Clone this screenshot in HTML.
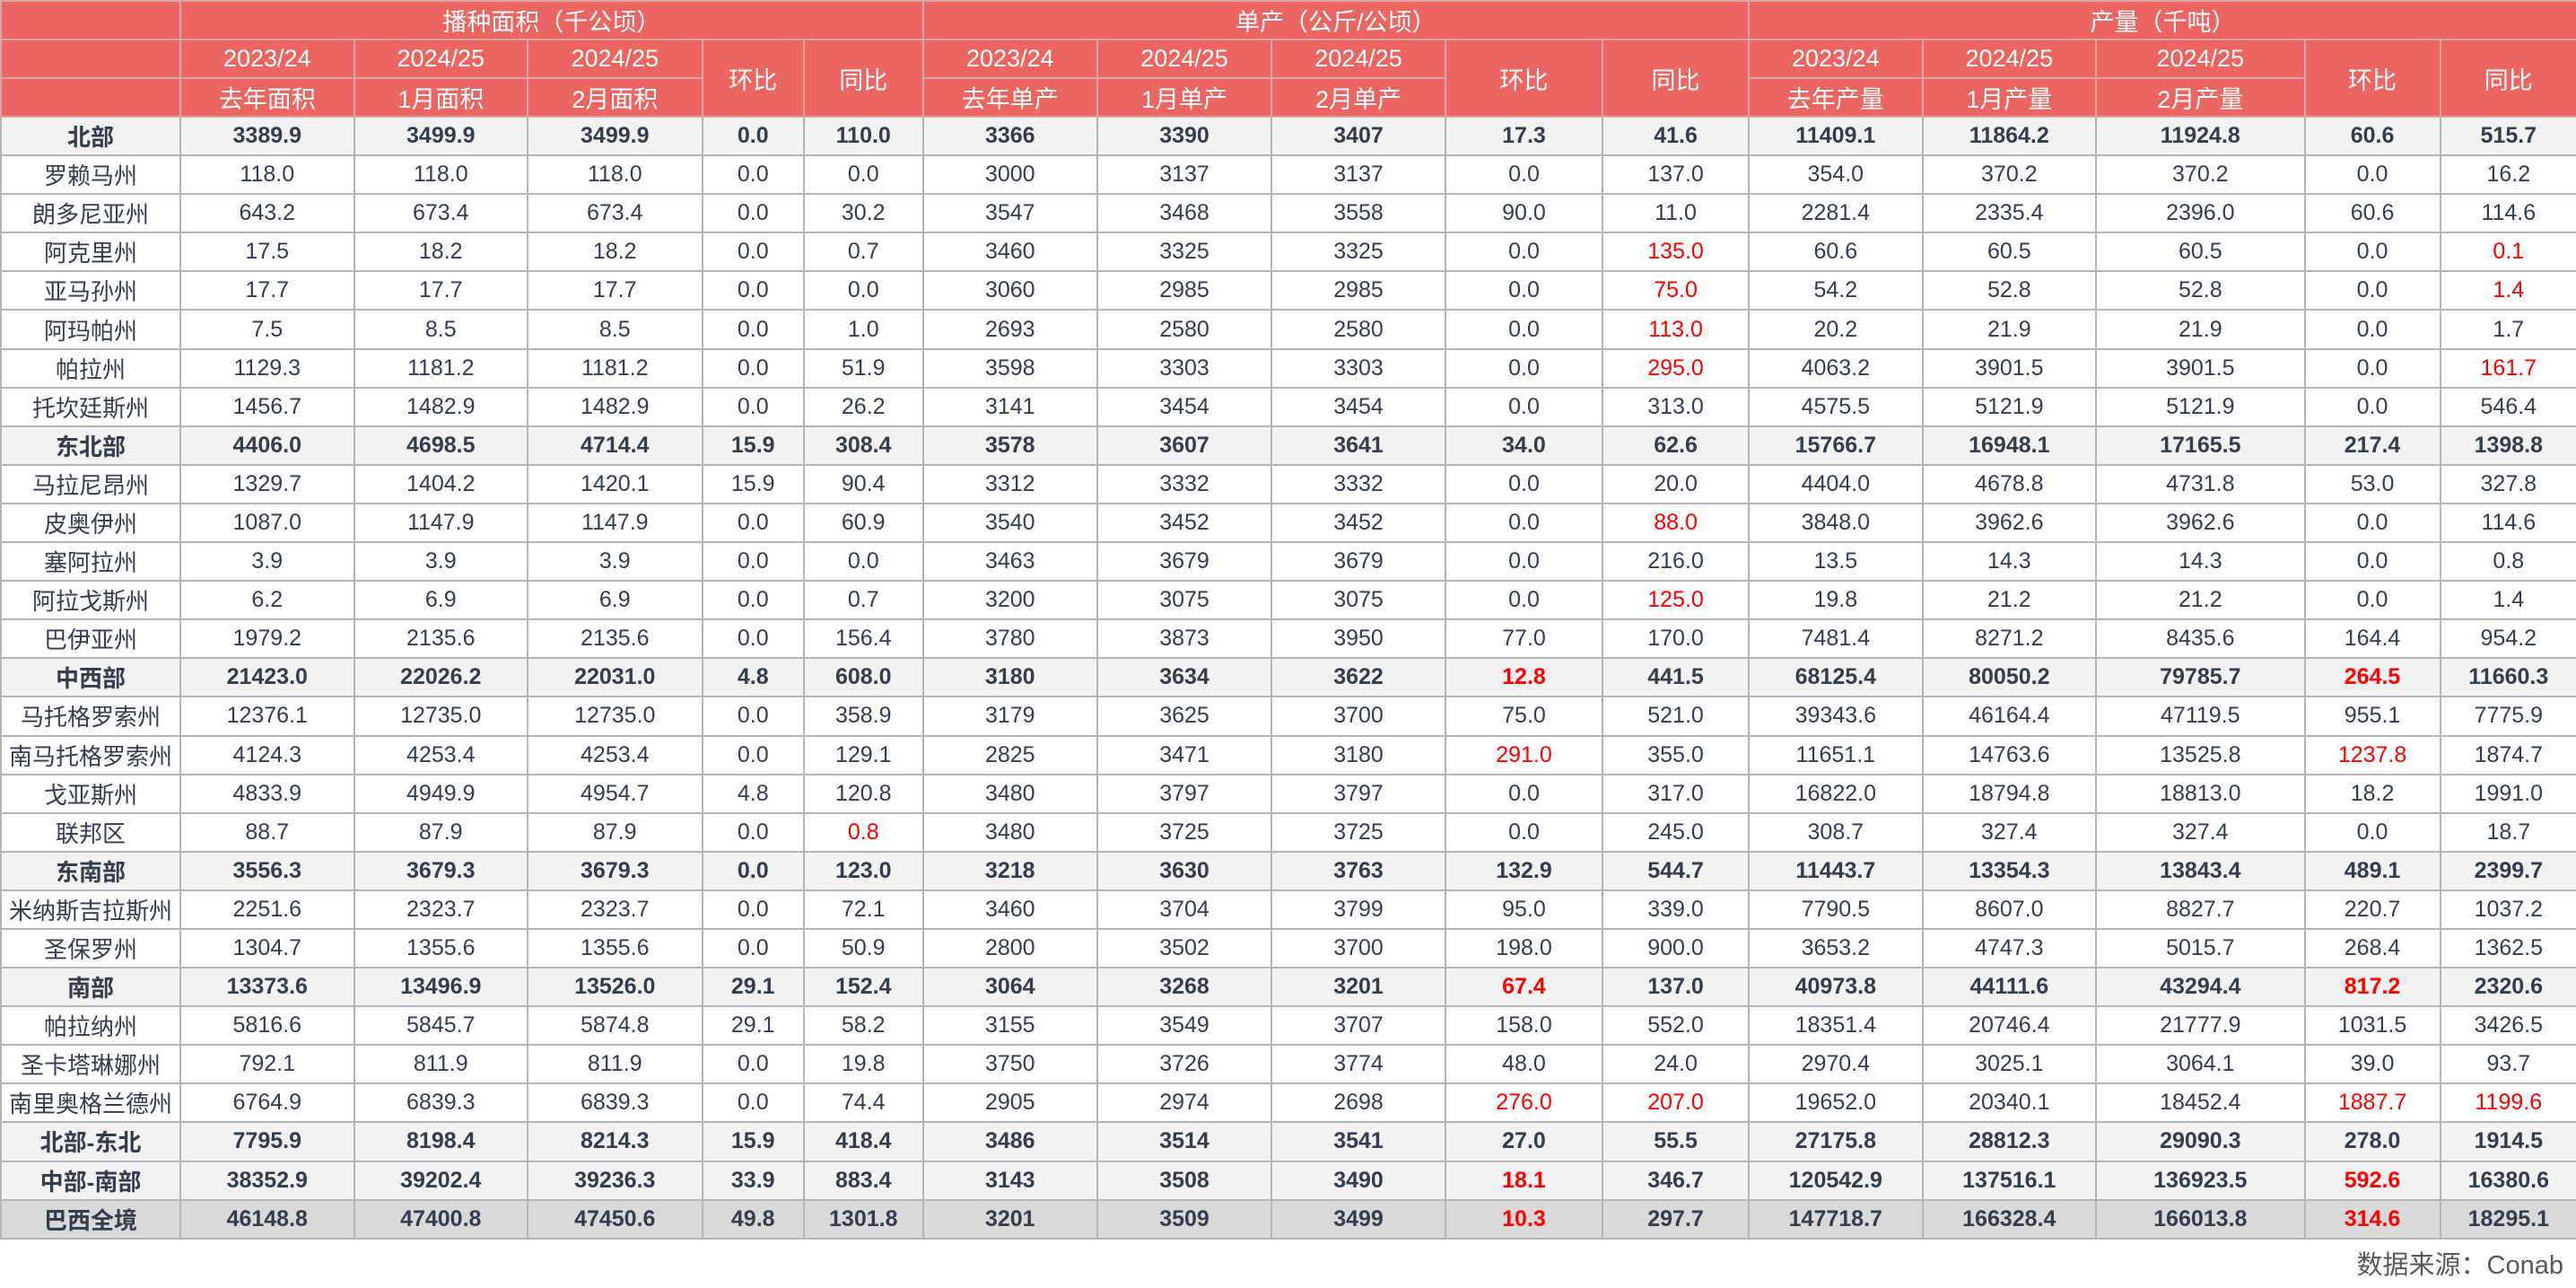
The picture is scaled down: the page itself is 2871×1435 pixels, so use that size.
<!DOCTYPE html>
<html><head><meta charset="utf-8">
<style>
html,body{margin:0;padding:0;background:#fff;}
body{width:2871px;height:1435px;position:relative;overflow:hidden;font-family:"Liberation Sans","Noto Sans CJK SC",sans-serif;}
table{position:absolute;left:0;top:0;border-collapse:collapse;table-layout:fixed;width:2871px;}
td{padding:0;text-align:center;vertical-align:middle;font-size:25px;color:#333d4e;border:2px solid #b4b4b4;white-space:nowrap;overflow:hidden;}
thead td{background:#eb6663;color:#fff;font-size:27px;border-color:#d9a5a3;height:41px;}
tbody tr{height:43.1px;}
tr.b td{background:#f2f2f2;font-weight:bold;}
tr.t td{background:#d9d9d9;font-weight:bold;}
td.n{font-size:26px;}
.r{color:#ff0000 !important;}
.src{position:absolute;right:14px;top:1386px;font-size:29px;color:#595959;}
</style></head><body>
<table>
<colgroup>
<col style="width:200px"><col style="width:193.5px"><col style="width:193.5px"><col style="width:194.5px"><col style="width:113.5px"><col style="width:132.5px">
<col style="width:194.5px"><col style="width:194px"><col style="width:194px"><col style="width:175px"><col style="width:163px">
<col style="width:193.5px"><col style="width:193.5px"><col style="width:232.5px"><col style="width:151px"><col style="width:152.5px">
</colgroup>
<thead>
<tr><td></td><td colspan="5">播种面积（千公顷）</td><td colspan="5">单产（公斤/公顷）</td><td colspan="5">产量（千吨）</td></tr>
<tr><td></td><td>2023/24</td><td>2024/25</td><td>2024/25</td><td rowspan="2">环比</td><td rowspan="2">同比</td><td>2023/24</td><td>2024/25</td><td>2024/25</td><td rowspan="2">环比</td><td rowspan="2">同比</td><td>2023/24</td><td>2024/25</td><td>2024/25</td><td rowspan="2">环比</td><td rowspan="2">同比</td></tr>
<tr><td></td><td>去年面积</td><td>1月面积</td><td>2月面积</td><td>去年单产</td><td>1月单产</td><td>2月单产</td><td>去年产量</td><td>1月产量</td><td>2月产量</td></tr>
</thead>
<tbody>
<tr class="b"><td class="n">北部</td><td>3389.9</td><td>3499.9</td><td>3499.9</td><td>0.0</td><td>110.0</td><td>3366</td><td>3390</td><td>3407</td><td>17.3</td><td>41.6</td><td>11409.1</td><td>11864.2</td><td>11924.8</td><td>60.6</td><td>515.7</td></tr>
<tr><td class="n">罗赖马州</td><td>118.0</td><td>118.0</td><td>118.0</td><td>0.0</td><td>0.0</td><td>3000</td><td>3137</td><td>3137</td><td>0.0</td><td>137.0</td><td>354.0</td><td>370.2</td><td>370.2</td><td>0.0</td><td>16.2</td></tr>
<tr><td class="n">朗多尼亚州</td><td>643.2</td><td>673.4</td><td>673.4</td><td>0.0</td><td>30.2</td><td>3547</td><td>3468</td><td>3558</td><td>90.0</td><td>11.0</td><td>2281.4</td><td>2335.4</td><td>2396.0</td><td>60.6</td><td>114.6</td></tr>
<tr><td class="n">阿克里州</td><td>17.5</td><td>18.2</td><td>18.2</td><td>0.0</td><td>0.7</td><td>3460</td><td>3325</td><td>3325</td><td>0.0</td><td class="r">135.0</td><td>60.6</td><td>60.5</td><td>60.5</td><td>0.0</td><td class="r">0.1</td></tr>
<tr><td class="n">亚马孙州</td><td>17.7</td><td>17.7</td><td>17.7</td><td>0.0</td><td>0.0</td><td>3060</td><td>2985</td><td>2985</td><td>0.0</td><td class="r">75.0</td><td>54.2</td><td>52.8</td><td>52.8</td><td>0.0</td><td class="r">1.4</td></tr>
<tr><td class="n">阿玛帕州</td><td>7.5</td><td>8.5</td><td>8.5</td><td>0.0</td><td>1.0</td><td>2693</td><td>2580</td><td>2580</td><td>0.0</td><td class="r">113.0</td><td>20.2</td><td>21.9</td><td>21.9</td><td>0.0</td><td>1.7</td></tr>
<tr><td class="n">帕拉州</td><td>1129.3</td><td>1181.2</td><td>1181.2</td><td>0.0</td><td>51.9</td><td>3598</td><td>3303</td><td>3303</td><td>0.0</td><td class="r">295.0</td><td>4063.2</td><td>3901.5</td><td>3901.5</td><td>0.0</td><td class="r">161.7</td></tr>
<tr><td class="n">托坎廷斯州</td><td>1456.7</td><td>1482.9</td><td>1482.9</td><td>0.0</td><td>26.2</td><td>3141</td><td>3454</td><td>3454</td><td>0.0</td><td>313.0</td><td>4575.5</td><td>5121.9</td><td>5121.9</td><td>0.0</td><td>546.4</td></tr>
<tr class="b"><td class="n">东北部</td><td>4406.0</td><td>4698.5</td><td>4714.4</td><td>15.9</td><td>308.4</td><td>3578</td><td>3607</td><td>3641</td><td>34.0</td><td>62.6</td><td>15766.7</td><td>16948.1</td><td>17165.5</td><td>217.4</td><td>1398.8</td></tr>
<tr><td class="n">马拉尼昂州</td><td>1329.7</td><td>1404.2</td><td>1420.1</td><td>15.9</td><td>90.4</td><td>3312</td><td>3332</td><td>3332</td><td>0.0</td><td>20.0</td><td>4404.0</td><td>4678.8</td><td>4731.8</td><td>53.0</td><td>327.8</td></tr>
<tr><td class="n">皮奥伊州</td><td>1087.0</td><td>1147.9</td><td>1147.9</td><td>0.0</td><td>60.9</td><td>3540</td><td>3452</td><td>3452</td><td>0.0</td><td class="r">88.0</td><td>3848.0</td><td>3962.6</td><td>3962.6</td><td>0.0</td><td>114.6</td></tr>
<tr><td class="n">塞阿拉州</td><td>3.9</td><td>3.9</td><td>3.9</td><td>0.0</td><td>0.0</td><td>3463</td><td>3679</td><td>3679</td><td>0.0</td><td>216.0</td><td>13.5</td><td>14.3</td><td>14.3</td><td>0.0</td><td>0.8</td></tr>
<tr><td class="n">阿拉戈斯州</td><td>6.2</td><td>6.9</td><td>6.9</td><td>0.0</td><td>0.7</td><td>3200</td><td>3075</td><td>3075</td><td>0.0</td><td class="r">125.0</td><td>19.8</td><td>21.2</td><td>21.2</td><td>0.0</td><td>1.4</td></tr>
<tr><td class="n">巴伊亚州</td><td>1979.2</td><td>2135.6</td><td>2135.6</td><td>0.0</td><td>156.4</td><td>3780</td><td>3873</td><td>3950</td><td>77.0</td><td>170.0</td><td>7481.4</td><td>8271.2</td><td>8435.6</td><td>164.4</td><td>954.2</td></tr>
<tr class="b"><td class="n">中西部</td><td>21423.0</td><td>22026.2</td><td>22031.0</td><td>4.8</td><td>608.0</td><td>3180</td><td>3634</td><td>3622</td><td class="r">12.8</td><td>441.5</td><td>68125.4</td><td>80050.2</td><td>79785.7</td><td class="r">264.5</td><td>11660.3</td></tr>
<tr><td class="n">马托格罗索州</td><td>12376.1</td><td>12735.0</td><td>12735.0</td><td>0.0</td><td>358.9</td><td>3179</td><td>3625</td><td>3700</td><td>75.0</td><td>521.0</td><td>39343.6</td><td>46164.4</td><td>47119.5</td><td>955.1</td><td>7775.9</td></tr>
<tr><td class="n">南马托格罗索州</td><td>4124.3</td><td>4253.4</td><td>4253.4</td><td>0.0</td><td>129.1</td><td>2825</td><td>3471</td><td>3180</td><td class="r">291.0</td><td>355.0</td><td>11651.1</td><td>14763.6</td><td>13525.8</td><td class="r">1237.8</td><td>1874.7</td></tr>
<tr><td class="n">戈亚斯州</td><td>4833.9</td><td>4949.9</td><td>4954.7</td><td>4.8</td><td>120.8</td><td>3480</td><td>3797</td><td>3797</td><td>0.0</td><td>317.0</td><td>16822.0</td><td>18794.8</td><td>18813.0</td><td>18.2</td><td>1991.0</td></tr>
<tr><td class="n">联邦区</td><td>88.7</td><td>87.9</td><td>87.9</td><td>0.0</td><td class="r">0.8</td><td>3480</td><td>3725</td><td>3725</td><td>0.0</td><td>245.0</td><td>308.7</td><td>327.4</td><td>327.4</td><td>0.0</td><td>18.7</td></tr>
<tr class="b"><td class="n">东南部</td><td>3556.3</td><td>3679.3</td><td>3679.3</td><td>0.0</td><td>123.0</td><td>3218</td><td>3630</td><td>3763</td><td>132.9</td><td>544.7</td><td>11443.7</td><td>13354.3</td><td>13843.4</td><td>489.1</td><td>2399.7</td></tr>
<tr><td class="n">米纳斯吉拉斯州</td><td>2251.6</td><td>2323.7</td><td>2323.7</td><td>0.0</td><td>72.1</td><td>3460</td><td>3704</td><td>3799</td><td>95.0</td><td>339.0</td><td>7790.5</td><td>8607.0</td><td>8827.7</td><td>220.7</td><td>1037.2</td></tr>
<tr><td class="n">圣保罗州</td><td>1304.7</td><td>1355.6</td><td>1355.6</td><td>0.0</td><td>50.9</td><td>2800</td><td>3502</td><td>3700</td><td>198.0</td><td>900.0</td><td>3653.2</td><td>4747.3</td><td>5015.7</td><td>268.4</td><td>1362.5</td></tr>
<tr class="b"><td class="n">南部</td><td>13373.6</td><td>13496.9</td><td>13526.0</td><td>29.1</td><td>152.4</td><td>3064</td><td>3268</td><td>3201</td><td class="r">67.4</td><td>137.0</td><td>40973.8</td><td>44111.6</td><td>43294.4</td><td class="r">817.2</td><td>2320.6</td></tr>
<tr><td class="n">帕拉纳州</td><td>5816.6</td><td>5845.7</td><td>5874.8</td><td>29.1</td><td>58.2</td><td>3155</td><td>3549</td><td>3707</td><td>158.0</td><td>552.0</td><td>18351.4</td><td>20746.4</td><td>21777.9</td><td>1031.5</td><td>3426.5</td></tr>
<tr><td class="n">圣卡塔琳娜州</td><td>792.1</td><td>811.9</td><td>811.9</td><td>0.0</td><td>19.8</td><td>3750</td><td>3726</td><td>3774</td><td>48.0</td><td>24.0</td><td>2970.4</td><td>3025.1</td><td>3064.1</td><td>39.0</td><td>93.7</td></tr>
<tr><td class="n">南里奥格兰德州</td><td>6764.9</td><td>6839.3</td><td>6839.3</td><td>0.0</td><td>74.4</td><td>2905</td><td>2974</td><td>2698</td><td class="r">276.0</td><td class="r">207.0</td><td>19652.0</td><td>20340.1</td><td>18452.4</td><td class="r">1887.7</td><td class="r">1199.6</td></tr>
<tr class="b"><td class="n">北部-东北</td><td>7795.9</td><td>8198.4</td><td>8214.3</td><td>15.9</td><td>418.4</td><td>3486</td><td>3514</td><td>3541</td><td>27.0</td><td>55.5</td><td>27175.8</td><td>28812.3</td><td>29090.3</td><td>278.0</td><td>1914.5</td></tr>
<tr class="b"><td class="n">中部-南部</td><td>38352.9</td><td>39202.4</td><td>39236.3</td><td>33.9</td><td>883.4</td><td>3143</td><td>3508</td><td>3490</td><td class="r">18.1</td><td>346.7</td><td>120542.9</td><td>137516.1</td><td>136923.5</td><td class="r">592.6</td><td>16380.6</td></tr>
<tr class="t"><td class="n">巴西全境</td><td>46148.8</td><td>47400.8</td><td>47450.6</td><td>49.8</td><td>1301.8</td><td>3201</td><td>3509</td><td>3499</td><td class="r">10.3</td><td>297.7</td><td>147718.7</td><td>166328.4</td><td>166013.8</td><td class="r">314.6</td><td>18295.1</td></tr>
</tbody>
</table>
<div class="src">数据来源：Conab</div>
</body></html>
